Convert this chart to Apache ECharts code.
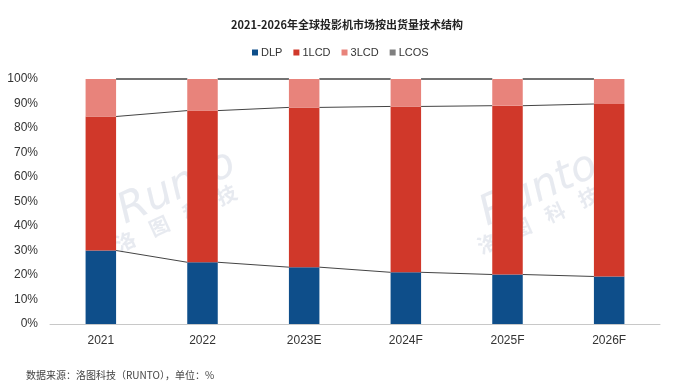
<!DOCTYPE html>
<html>
<head>
<meta charset="utf-8">
<script src="https://cdn.jsdelivr.net/npm/echarts@6/dist/echarts.min.js"></script>
<style>html,body{margin:0;padding:0;background:#fff;}#c{width:700px;height:385px;}</style>
</head>
<body>
<div id="c"></div>
<script>
var categories = ['2021', '2022', '2023E', '2024F', '2025F', '2026F'];
var dlp  = [30.0, 25.2, 23.2, 21.1, 20.2, 19.4];
var lcd1 = [54.7, 61.9, 65.2, 67.7, 68.9, 70.4];
var lcd3 = [15.3, 12.9, 11.6, 11.2, 10.9, 10.2];
var lcos = [0, 0, 0, 0, 0, 0];
var yTicks = [0, 10, 20, 30, 40, 50, 60, 70, 80, 90, 100];
var titleText = '2021-2026年全球投影机市场按出货量技术结构';
var sourceText = '数据来源：洛图科技（RUNTO），单位：%';
var wmLatin = 'Runto';
var wmChars = ['洛', '图', '科', '技'];

var FONT = '"Liberation Sans", "Noto Sans CJK SC", sans-serif';
var BAR_RATIO = 0.3;
var chart = echarts.init(document.getElementById('c'), null, {renderer: 'canvas'});

var stacks = [dlp, lcd1, lcd3, lcos];
function cumAt(i, k) { var s = 0; for (var j = 0; j <= k; j++) s += stacks[j][i]; return s; }

var WM_FILL = 'rgba(222,226,234,0.72)';
function wm(x, y) {
  var kids = [
    {type: 'text', x: 0, y: 0, style: {text: wmLatin, font: 'italic 42px "DejaVu Sans", sans-serif', fill: WM_FILL, align: 'center', verticalAlign: 'middle'}}
  ];
  var xs = [-69, -32, 5, 42];
  for (var i = 0; i < wmChars.length; i++) {
    kids.push({type: 'text', x: xs[i], y: 27, style: {text: wmChars[i], font: 'bold 20px "Noto Sans CJK SC", sans-serif', fill: WM_FILL, align: 'center', verticalAlign: 'middle'}});
  }
  return {type: 'group', x: x, y: y, rotation: 0.43, silent: true, z: 100, children: kids};
}

var option = {
  backgroundColor: '#ffffff',
  animation: false,
  textStyle: {fontFamily: FONT},
  title: {
    text: titleText, left: 226, top: 14,
    textStyle: {fontSize: 11, fontWeight: 'bold', color: '#222', fontFamily: '"Noto Sans CJK SC", sans-serif'}
  },
  legend: {
    top: 42, left: 247, itemWidth: 6, itemHeight: 6, itemGap: 11, icon: 'rect',
    textStyle: {fontSize: 11, color: '#333', fontFamily: FONT, padding: [0, 0, 0, -2]},
    data: ['DLP', '1LCD', '3LCD', 'LCOS']
  },
  grid: {left: 50, right: 40, top: 79, bottom: 61, containLabel: false},
  xAxis: {
    type: 'category', data: categories,
    axisLine: {lineStyle: {color: '#c8c8c8', width: 1}},
    axisTick: {show: false},
    axisLabel: {fontSize: 12, color: '#333', margin: 11, fontFamily: FONT}
  },
  yAxis: {
    type: 'value', min: 0, max: 100, interval: 10,
    axisLine: {show: false}, axisTick: {show: false}, splitLine: {show: false},
    axisLabel: {fontSize: 12, color: '#333', margin: 12, formatter: '{value}%', fontFamily: FONT}
  },
  series: [
    {name: 'DLP', type: 'bar', stack: 't', barWidth: '30%', data: dlp, itemStyle: {color: '#0e4e8a'}},
    {name: '1LCD', type: 'bar', stack: 't', barWidth: '30%', data: lcd1, itemStyle: {color: '#d0382a'}},
    {name: '3LCD', type: 'bar', stack: 't', barWidth: '30%', data: lcd3, itemStyle: {color: '#e8837b'}},
    {name: 'LCOS', type: 'bar', stack: 't', barWidth: '30%', data: lcos, itemStyle: {color: '#7f7f7f'}},
    {
      name: 'serieslines', type: 'custom', silent: true, z: 1,
      data: categories.map(function (c, i) { return [i]; }),
      encode: {x: 0},
      renderItem: function (params, api) {
        var i = api.value(0);
        if (i >= categories.length - 1) return null;
        var half = api.size([1, 0])[0] * BAR_RATIO / 2;
        var children = [];
        for (var k = 0; k < stacks.length; k++) {
          var p1 = api.coord([i, cumAt(i, k)]);
          var p2 = api.coord([i + 1, cumAt(i + 1, k)]);
          children.push({type: 'line', shape: {x1: p1[0] + half, y1: p1[1], x2: p2[0] - half, y2: p2[1]},
            style: {stroke: '#444', lineWidth: 1}});
        }
        return {type: 'group', children: children};
      }
    }
  ],
  graphic: [
    wm(177, 188),
    wm(539, 190),
    {type: 'text', left: 26, top: 370, style: {text: sourceText, font: '10px "Noto Sans CJK SC", sans-serif', fill: '#444'}}
  ]
};
chart.setOption(option);
</script>
</body>
</html>
